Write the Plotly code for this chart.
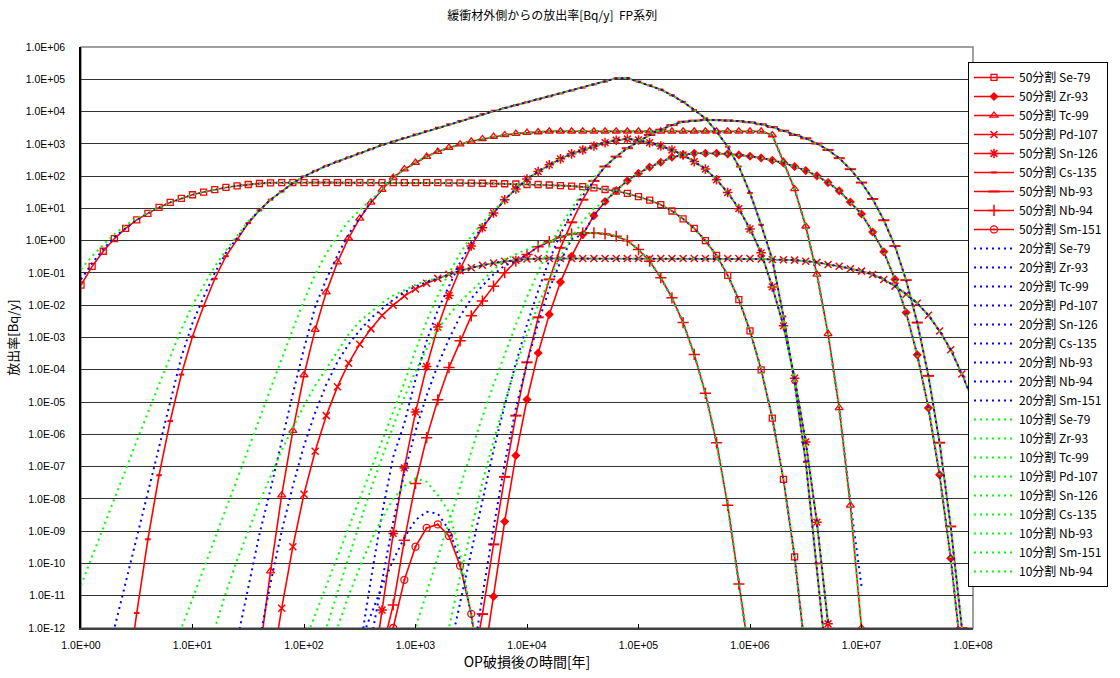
import plotly.graph_objects as go

# time grid of the calculation: 10 samples per decade, 1 .. 1e8 years
TIME = [10 ** (k / 10) for k in range(81)]

NUCLIDES_50 = ["Se-79", "Zr-93", "Tc-99", "Pd-107", "Sn-126", "Cs-135", "Nb-93", "Nb-94", "Sm-151"]
NUCLIDES_10 = ["Se-79", "Zr-93", "Tc-99", "Pd-107", "Sn-126", "Cs-135", "Nb-93", "Sm-151", "Nb-94"]

# ---------------- 50分割 (red) : (start index on TIME grid, values) ----------------
SE79_50_K = 0
SE79_50 = [4.2e-2, 0.16, 0.47, 1.16, 2.4, 4.4, 7.0, 10.7, 15.3, 20.4,
           26.5, 32, 38, 44.5, 50, 55, 59, 62, 63, 63,
           63, 63, 63, 63, 63, 63, 63, 63, 63, 63,
           63, 63, 63, 62, 62, 61, 60, 59, 58, 57,
           55, 55, 53, 51, 49, 47, 43.5, 38.5, 34.4, 29,
           23, 18, 13, 8.3, 4.7, 2.4, 1.0, 0.35, 0.084, 0.015,
           1.6e-3, 1.0e-4, 3.2e-6, 4.0e-8, 1.6e-10, 1.3e-13]

ZR93_50_K = 36
ZR93_50 = [5e-14, 9.5e-12, 2.0e-9, 2.2e-7, 1.2e-5, 3.3e-4, 5.2e-3, 5.2e-2, 0.33, 1.54,
           5.96, 16.4, 36, 72, 123, 190, 270, 385, 454, 513,
           513, 513, 488, 454, 414, 367, 310, 255, 198, 148,
           102, 63, 35, 15.8, 6.7, 1.86, 0.45, 0.063, 5.9e-3, 2.9e-4,
           6.6e-6, 5.6e-8, 1.45e-10, 1e-13]

TC99_50_K = 16
TC99_50 = [1.5e-13, 5.8e-11, 1.3e-8, 1.3e-6, 6.9e-5, 1.75e-3, 2.55e-2, 0.215, 1.19, 4.9,
           15.3, 38, 90, 164, 263, 403, 575, 764, 973, 1200,
           1416, 1667, 1883, 2065, 2220, 2330, 2450, 2450, 2450, 2450,
           2450, 2450, 2450, 2450, 2450, 2450, 2450, 2450, 2450, 2450,
           2450, 2450, 2450, 2450, 2450, 2430, 1880, 280, 40, 2.8,
           0.09, 1.3e-3, 6.6e-6, 6.3e-9, 1e-12]

PD107_50_K = 17
PD107_50 = [3e-14, 4.1e-12, 3.3e-10, 1.4e-8, 3.0e-7, 3.8e-6, 3.0e-5, 1.6e-4, 6.2e-4, 1.85e-3,
            4.8e-3, 1.0e-2, 1.92e-2, 3.2e-2, 4.8e-2, 6.8e-2, 9.1e-2, 0.117, 0.145, 0.174,
            0.204, 0.229, 0.25, 0.27, 0.28, 0.28, 0.28, 0.28, 0.28, 0.28,
            0.28, 0.28, 0.28, 0.28, 0.28, 0.28, 0.28, 0.28, 0.28, 0.28,
            0.28, 0.28, 0.28, 0.28, 0.27, 0.26, 0.255, 0.25, 0.23, 0.215,
            0.183, 0.162, 0.135, 0.114, 0.09, 0.063, 0.039, 0.022, 0.0115, 4.9e-3,
            1.6e-3, 4.2e-4, 7.4e-5, 1.1e-5]

SN126_50_K = 26
SN126_50 = [1.5e-14, 3.6e-12, 8.5e-10, 9.1e-8, 4.9e-6, 1.26e-4, 2.1e-3, 2.0e-2, 0.13, 0.68,
            2.5, 7.2, 18.6, 40, 81, 138, 224, 343, 490, 645,
            860, 1090, 1290, 1410, 1320, 1090, 860, 645, 454, 282,
            165, 77, 31, 9.8, 2.3, 0.42, 3.7e-2, 2.3e-3, 5.5e-5, 5.8e-7,
            1.9e-9, 1.35e-12]

CS135_50_K = 4
CS135_50 = [1e-14, 2.9e-12, 5.6e-10, 5.4e-8, 2.6e-6, 7.1e-5, 1.07e-3, 9.5e-3, 6.6e-2, 0.33,
            1.08, 3.5, 8.7, 18.6, 33.5, 60, 98, 146, 208, 282,
            385, 513, 681, 925, 1175, 1510, 1950, 2480, 3160, 4030,
            5130, 6530, 8320, 1.06e4, 1.29e4, 1.58e4, 1.95e4, 2.4e4, 2.95e4, 3.63e4,
            4.47e4, 5.5e4, 6.9e4, 8.5e4, 1.07e5, 1.1e5, 8.5e4, 6.5e4, 4.8e4, 3.2e4,
            2.0e4, 1.12e4, 6200, 2400, 820, 198, 30, 3.1, 0.26, 4.5e-3,
            4e-5, 1.4e-7, 1e-10, 3e-14]

NB93_50_K = 35
NB93_50 = [3e-14, 2.7e-12, 3.9e-10, 4.8e-8, 3.8e-6, 1.7e-4, 4.2e-3, 6.3e-2, 0.6, 3.7,
           18.6, 71, 198, 403, 731, 1170, 1880, 2750, 3800, 4840,
           5250, 5470, 5430, 5300, 5050, 4650, 4050, 3300, 2550, 1880,
           1480, 1020, 646, 360, 164, 63, 19.5, 4.3, 0.68, 0.06,
           2.9e-3, 6.5e-5, 5.5e-7, 1.4e-9, 1e-12]

NB94_50_K = 27
NB94_50 = [2e-13, 5.2e-12, 5.2e-10, 3.0e-8, 7.9e-7, 1.17e-5, 1.17e-4, 7.9e-4, 4.7e-3, 1.35e-2,
           3.9e-2, 0.102, 0.23, 0.37, 0.65, 0.93, 1.31, 1.62, 1.74, 1.74,
           1.62, 1.37, 1.0, 0.53, 0.23, 7.1e-2, 1.7e-2, 2.9e-3, 3.0e-4, 1.86e-5,
           5.5e-7, 6.3e-9, 2.3e-11, 1e-13]

SM151_50_K = 27
SM151_50 = [1e-14, 1.0e-12, 3.1e-11, 3.3e-10, 1.26e-9, 1.62e-9, 7.1e-10, 8.5e-11, 2.75e-12, 1e-14]

# ---------------- 20分割 (blue) : earlier arrival on rising flanks ----------------
SE79_20_K = 0
SE79_20 = [0.063, 0.2, 0.55, 1.3] + SE79_50[4:]
ZR93_20_K = 35
ZR93_20 = [5e-14, 1e-11, 1.26e-9, 1.26e-7, 6.3e-6, 1.6e-4, 2.8e-3, 3.2e-2, 0.22, 1.12] + ZR93_50[9:]
TC99_20_K = 14
TC99_20 = ([4e-13, 2e-11, 7.9e-10, 2e-8, 6.3e-7, 1.8e-5, 4.5e-4, 8.9e-3, 6.3e-2, 0.35, 1.6, 5.2, 15.8]
           + TC99_50[11:53] + [8e-9, 2e-11])
PD107_20_K = 16
PD107_20 = [4e-13, 2.5e-11, 1e-9, 2.5e-8, 4.5e-7, 4.7e-6, 3.5e-5, 1.74e-4, 6.2e-4, 1.66e-3,
            4e-3, 7.9e-3, 1.48e-2, 2.5e-2, 3.8e-2, 5.2e-2] + PD107_50[15:]
SN126_20_K = 24
SN126_20 = [1e-14, 2e-13, 3.2e-11, 3.5e-9, 2e-7, 2.2e-6, 5e-5, 7.9e-4, 7.1e-3, 3.7e-2,
            0.21, 0.87, 2.75] + SN126_50[11:]
CS135_20_K = 2
CS135_20 = [4e-14, 1e-12, 2.5e-11, 6.3e-10, 1.6e-8, 4e-7, 1e-5, 2.5e-4, 2.8e-3, 1.8e-2,
            0.1, 0.42, 1.2, 3.7] + CS135_50[12:]
NB93_20_K = 33
NB93_20 = [1.6e-13, 6.3e-12, 2.5e-10, 1e-8, 3.2e-7, 7.9e-6, 1.6e-4, 2.5e-3, 2.8e-2, 0.25,
           1.6, 7.1, 25] + NB93_50[11:]
NB94_20_K = 26
NB94_20 = [4e-13, 3.2e-11, 2e-9, 6.3e-8, 1.26e-6, 1.6e-5, 1.4e-4, 8.9e-4, 4.5e-3, 1.6e-2,
           4e-2, 9e-2, 0.17] + NB94_50[12:]
SM151_20_K = 25
SM151_20 = [3.2e-13, 2.5e-12, 2e-11, 1.26e-10, 6.3e-10, 2.2e-9, 4e-9, 3.5e-9, 1.1e-9, 1.26e-10,
            2.5e-12, 1e-14]

# ---------------- 10分割 (green) ----------------
SE79_10_K = 0
SE79_10 = [0.13, 0.33, 0.75, 1.6, 3.0, 5.0, 7.5] + SE79_50[7:]
ZR93_10_K = 32
ZR93_10 = [1e-13, 1e-12, 4e-11, 1.26e-9, 3.2e-8, 6.3e-7, 1e-5, 1.26e-4, 1.26e-3, 1e-2,
           6.3e-2, 0.32, 1.26, 4.0, 10] + ZR93_50[11:]
TC99_10_K = 8
TC99_10 = [1e-13, 1e-12, 7.9e-12, 7.1e-11, 6.3e-10, 5e-9, 4e-8, 3.5e-7, 3.2e-6, 2.5e-5,
           2.2e-4, 1.8e-3, 1.4e-2, 8.9e-2, 0.4, 1.4, 4.0, 8.9, 17.8] + TC99_50[11:]
PD107_10_K = 11
PD107_10 = [5e-14, 1e-12, 1.26e-11, 1.26e-10, 1e-9, 7.9e-9, 5e-8, 3.2e-7, 1.6e-6, 7.9e-6,
            3.2e-5, 1.1e-4, 4e-4, 1.26e-3, 3.2e-3, 6.3e-3, 1.17e-2, 2e-2, 3e-2, 4.3e-2,
            5.8e-2] + PD107_50[15:]
SN126_10_K = 20
SN126_10 = [3.2e-13, 2.5e-12, 2e-11, 1.6e-10, 1.26e-9, 1e-8, 7.9e-8, 6.3e-7, 5e-6, 4e-5,
            4e-4, 3.2e-3, 2e-2, 0.1, 0.4, 1.4, 3.5, 8.5] + SN126_50[12:]
CS135_10_K = 0
CS135_10 = [2.1e-11, 1.6e-10, 1.26e-9, 1e-8, 7.9e-8, 6.3e-7, 5e-6, 3.5e-5, 2.5e-4, 1.8e-3,
            1e-2, 4e-2, 0.16, 0.5, 1.4, 4.0] + CS135_50[12:]
NB93_10_K = 29
NB93_10 = [1e-13, 1e-12, 1.26e-11, 1.6e-10, 2e-9, 2.5e-8, 3.2e-7, 3.5e-6, 3.5e-5, 3.2e-4,
           2.5e-3, 1.8e-2, 0.11, 0.63, 2.8, 10, 32, 89] + NB93_50[12:]
SM151_10_K = 22
SM151_10 = [1e-13, 1e-12, 1e-11, 7.9e-11, 5e-10, 2.5e-9, 1e-8, 2.5e-8, 4.3e-8, 3.4e-8,
            1.3e-8, 4e-9, 2e-10, 2.5e-12, 1e-14]
NB94_10_K = 21
NB94_10 = [1e-13, 1e-12, 1.26e-11, 1.6e-10, 1.8e-9, 2e-8, 2e-7, 1.8e-6, 1.4e-5, 8.9e-5,
           4.5e-4, 1.8e-3, 5e-3, 1.26e-2, 2.8e-2, 6e-2, 0.13, 0.26, 0.38, 0.52,
           0.75] + NB94_50[15:]

X_TICK_LABELS = ["1.0E+00", "1.0E+01", "1.0E+02", "1.0E+03", "1.0E+04",
                 "1.0E+05", "1.0E+06", "1.0E+07", "1.0E+08"]
Y_TICK_LABELS = ["1.0E-12", "1.0E-11", "1.0E-10", "1.0E-09", "1.0E-08", "1.0E-07",
                 "1.0E-06", "1.0E-05", "1.0E-04", "1.0E-03", "1.0E-02", "1.0E-01",
                 "1.0E+00", "1.0E+01", "1.0E+02", "1.0E+03", "1.0E+04", "1.0E+05", "1.0E+06"]

SERIES_50 = {
    "Se-79": (SE79_50_K, SE79_50), "Zr-93": (ZR93_50_K, ZR93_50), "Tc-99": (TC99_50_K, TC99_50),
    "Pd-107": (PD107_50_K, PD107_50), "Sn-126": (SN126_50_K, SN126_50), "Cs-135": (CS135_50_K, CS135_50),
    "Nb-93": (NB93_50_K, NB93_50), "Nb-94": (NB94_50_K, NB94_50), "Sm-151": (SM151_50_K, SM151_50),
}
SERIES_20 = {
    "Se-79": (SE79_20_K, SE79_20), "Zr-93": (ZR93_20_K, ZR93_20), "Tc-99": (TC99_20_K, TC99_20),
    "Pd-107": (PD107_20_K, PD107_20), "Sn-126": (SN126_20_K, SN126_20), "Cs-135": (CS135_20_K, CS135_20),
    "Nb-93": (NB93_20_K, NB93_20), "Nb-94": (NB94_20_K, NB94_20), "Sm-151": (SM151_20_K, SM151_20),
}
SERIES_10 = {
    "Se-79": (SE79_10_K, SE79_10), "Zr-93": (ZR93_10_K, ZR93_10), "Tc-99": (TC99_10_K, TC99_10),
    "Pd-107": (PD107_10_K, PD107_10), "Sn-126": (SN126_10_K, SN126_10), "Cs-135": (CS135_10_K, CS135_10),
    "Nb-93": (NB93_10_K, NB93_10), "Sm-151": (SM151_10_K, SM151_10), "Nb-94": (NB94_10_K, NB94_10),
}

MARKERS = {
    "Se-79": dict(symbol="square-open", size=6, line=dict(width=1.3, color="#FF0000")),
    "Zr-93": dict(symbol="diamond", size=7, line=dict(width=0, color="#FF0000")),
    "Tc-99": dict(symbol="triangle-up-open", size=7, line=dict(width=1.3, color="#FF0000")),
    "Pd-107": dict(symbol="x-thin", size=7, line=dict(width=1.5, color="#FF0000")),
    "Sn-126": dict(symbol="asterisk", size=8, line=dict(width=1.5, color="#FF0000")),
    "Cs-135": dict(symbol="line-ew", size=4, line=dict(width=2, color="#FF0000")),
    "Nb-93": dict(symbol="line-ew", size=8, line=dict(width=2, color="#FF0000")),
    "Nb-94": dict(symbol="cross-thin", size=8, line=dict(width=1.5, color="#FF0000")),
    "Sm-151": dict(symbol="circle-open-dot", size=7, line=dict(width=1.3, color="#FF0000")),
}

fig = go.Figure()

for nuc in NUCLIDES_50:
    k0, vals = SERIES_50[nuc]
    fig.add_trace(go.Scatter(
        x=TIME[k0:k0 + len(vals)], y=vals, mode="lines+markers",
        name="50分割 " + nuc,
        line=dict(color="#FF0000", width=1.6),
        marker=dict(color="#FF0000", **MARKERS[nuc]),
        hoverinfo="skip"))

for nuc in NUCLIDES_50:
    k0, vals = SERIES_20[nuc]
    fig.add_trace(go.Scatter(
        x=TIME[k0:k0 + len(vals)], y=vals, mode="lines",
        name="20分割 " + nuc,
        line=dict(color="#0000FF", width=2, dash="2px,4px"),
        hoverinfo="skip"))

for nuc in NUCLIDES_10:
    k0, vals = SERIES_10[nuc]
    fig.add_trace(go.Scatter(
        x=TIME[k0:k0 + len(vals)], y=vals, mode="lines",
        name="10分割 " + nuc,
        line=dict(color="#00FF00", width=2, dash="2px,4px"),
        hoverinfo="skip"))

TICK_FONT = dict(family="Liberation Sans, Arial, sans-serif", size=10.5, color="#000000")
JP_FONT = "Noto Sans CJK JP, sans-serif"

fig.update_layout(
    width=1120, height=678, autosize=False,
    margin=dict(l=81, r=147, t=47, b=48, pad=0),
    paper_bgcolor="#FFFFFF", plot_bgcolor="#FFFFFF",
    title=dict(text="緩衝材外側からの放出率[Bq/y]\u00a0\u00a0FP系列",
               x=0.493, xref="container", xanchor="center",
               y=1 - 16 / 678, yref="container", yanchor="middle",
               font=dict(family=JP_FONT, size=12, color="#000000")),
    showlegend=True,
    legend=dict(x=(968 - 81) / 892, xanchor="left", y=(630 - 62) / 583, yanchor="top",
                bgcolor="#FFFFFF", bordercolor="#000000", borderwidth=1,
                font=dict(family=JP_FONT, size=12, color="#000000"),
                itemwidth=40, tracegroupgap=0, traceorder="normal"),
    xaxis=dict(type="log", range=[0, 8],
               tickvals=[10 ** i for i in range(9)], ticktext=X_TICK_LABELS,
               showgrid=False, zeroline=False,
               showline=True, linecolor="#404040", linewidth=2,
               ticks="inside", ticklen=4, tickcolor="#000000", tickwidth=1,
               tickfont=TICK_FONT, ticklabelstandoff=6,
               title=dict(text="OP破損後の時間[年]", standoff=6,
                          font=dict(family=JP_FONT, size=14, color="#000000"))),
    yaxis=dict(type="log", range=[-12, 6],
               tickvals=[10 ** i for i in range(-12, 7)], ticktext=Y_TICK_LABELS,
               showgrid=True, gridcolor="#333333", gridwidth=1, zeroline=False,
               showline=True, linecolor="#000000", linewidth=1.5,
               ticks="", tickfont=TICK_FONT, ticklabelstandoff=12,
               title=dict(text="放出率[Bq/y]", standoff=4,
                          font=dict(family=JP_FONT, size=13, color="#000000"))),
    shapes=[dict(type="rect", xref="paper", yref="paper", x0=0, x1=1, y0=0, y1=1,
                 line=dict(color="#808080", width=1.5), layer="below")],
)

fig.write_html("out.html")
